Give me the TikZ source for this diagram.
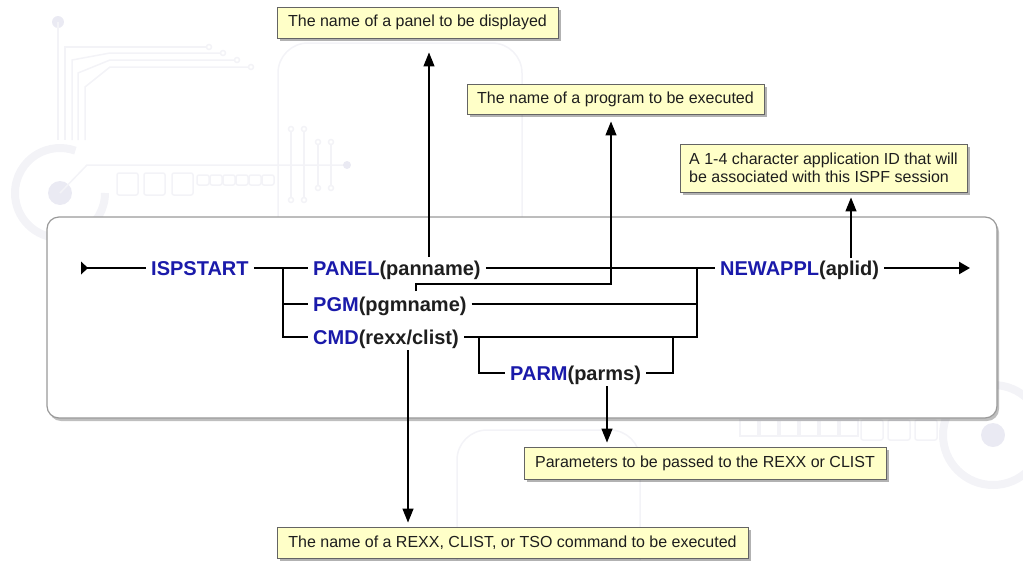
\documentclass[tikz,border=0pt]{standalone}
\usepackage{fontspec}
\setmainfont{Liberation Sans}
\usetikzlibrary{arrows.meta,shadows,calc}
\definecolor{kw}{RGB}{26,26,170}
\definecolor{txt}{RGB}{30,30,30}
\definecolor{notefill}{RGB}{255,255,200}
\definecolor{noteline}{RGB}{100,100,100}
\definecolor{faint}{RGB}{243,243,247}
\definecolor{faintdot}{RGB}{234,234,243}
\newcommand{\kw}[1]{\textcolor{kw}{#1}}
\begin{document}
\begin{tikzpicture}[x=1pt,y=-1pt,
  syn/.style={anchor=west, inner xsep=5pt, inner ysep=0pt, text height=14pt,
    text depth=0pt, font=\fontsize{20}{24}\selectfont\bfseries, text=txt},
  track/.style={line width=2.4pt, line join=miter},
  note/.style={draw=noteline, line width=0.9pt, fill=notefill, inner sep=0pt,
    font=\fontsize{16}{18}\selectfont, text=txt,
    drop shadow={shadow xshift=3pt, shadow yshift=-3pt, fill=black, opacity=0.3}},
  callout/.style={line width=1.3pt, -{Triangle[length=14pt,width=11pt]}},
  deco/.style={draw=faint, line width=1.5pt},
  frame/.style={draw=black!40, line width=1.2pt, fill=white, rounded corners=12pt,
    drop shadow={shadow xshift=2pt, shadow yshift=-3pt, fill=black, opacity=0.25}}]
\useasboundingbox (0,0) rectangle (1023,560);

% faint circuit pattern in the background
\begin{scope}[deco]
  \fill[faintdot] (58,22) circle (6);
  \draw (58,22) -- (58,140);
  \foreach \y/\x/\e/\v in {47/110/206/65, 53/110/220/72, 60/110/234/78, 67/110/248/85}{
    \draw (\e,\y) -- (\x,\y) -- (\v,\y+45-\x+\v) -- (\v,140);
    \draw (\e+3,\y) circle (2.5);
  }
  \draw[line width=8pt] (60,193) ++(90:45) arc (90:290:45);
  \draw[line width=8pt] (60,193) ++(0:45) arc (0:60:45);
  \fill[faintdot] (60,193) circle (12);
  \draw (60,193) -- (87,165) -- (347,165);
  \fill[faintdot] (347,165) circle (4);
  \foreach \x in {117,144,172}{\draw[rounded corners=2pt] (\x,173) rectangle ++(21,22);}
  \foreach \x in {197,210,223,236,249,262}{\draw[rounded corners=2pt] (\x,175) rectangle ++(12,10);}
  \foreach \x/\a/\b in {291/132/197, 304/132/197, 318/145/185, 331/145/185}{
    \draw (\x,\a) -- (\x,\b); \draw (\x,\a-3) circle (2.5); \draw (\x,\b+3) circle (2.5);}
  \draw[rounded corners=30pt] (278,217) -- (278,43) -- (522,43) -- (522,217);
  \draw[rounded corners=30pt] (457,560) -- (457,430) -- (640,430) -- (640,560);
  \foreach \x in {740,760,780,800,820,840}{\draw (\x,420) rectangle ++(18,16);}
  \foreach \x in {861,888,915}{\draw[rounded corners=2pt] (\x,420) rectangle ++(22,20);}
  \draw[line width=8pt] (993,435) circle (50);
  \fill[faintdot] (993,435) circle (12);
\end{scope}

% syntax frame
\path[frame] (47,217) rectangle (997,418);

% syntax elements
\coordinate (start) at (81,268);
\node[syn] (isp) at (146,268) {\kw{ISPSTART}};
\node[syn] (panel) at (308,268) {\kw{PANEL}(panname)};
\node[syn] (pgm) at (308,304) {\kw{PGM}(pgmname)};
\node[syn] (cmd) at (308,337) {\kw{CMD}(rexx/clist)};
\node[syn] (parm) at (505,373) {\kw{PARM}(parms)};
\node[syn] (newappl) at (715,268) {\kw{NEWAPPL}(aplid)};
\coordinate (finish) at (970,268);
\coordinate (jl) at (283,268);
\coordinate (jr) at (697,268);
\coordinate (pl) at (479,337);
\coordinate (pr) at (673,337);

% syntax tracks
\fill (start) ++(0,-6.5) -- ++(7,6.5) -- ++(-7,6.5) -- cycle;
\draw[track] (start) -- (isp.west);
\draw[track] (isp.east) -- (panel.west);
\draw[track] (jl) |- (pgm.west);
\draw[track] (jl) |- (cmd.west);
\draw[track] (panel.east) -- (newappl.west);
\draw[track] (pgm.east) -| (jr);
\draw[track] (cmd.east) -| (jr);
\draw[track] (pl) |- (parm.west);
\draw[track] (parm.east) -| (pr);
\draw[track, -{Triangle[length=11pt,width=12pt]}] (newappl.east) -- (finish);

% explanatory notes
\node[note, minimum width=281pt, minimum height=31pt] (n1) at (417.5,22.5)
  {The name of a panel to be displayed};
\node[note, minimum width=297pt, minimum height=30pt] (n2) at (615.5,99)
  {The name of a program to be executed};
\node[note, minimum width=287pt, minimum height=48pt, align=left] (n3) at (823.5,168)
  {A 1-4 character application ID that will\\be associated with this ISPF session};
\node[note, minimum width=362pt, minimum height=32pt] (n5) at (705,463)
  {Parameters to be passed to the REXX or CLIST};
\node[note, minimum width=471pt, minimum height=31pt] (n4) at (512.5,542.5)
  {The name of a REXX, CLIST, or TSO command to be executed};

% note connectors
\coordinate (a1) at (429,257);
\coordinate (a2) at (416,291);
\coordinate (a2b) at (611,284);
\coordinate (a3) at (851,258);
\coordinate (a4) at (408,350);
\coordinate (a5) at (607,386);
\draw[callout, shorten >=14pt] (a1) -- (a1 |- n1.south);
\draw[callout, shorten >=7pt] (a2) |- (a2b) -- (a2b |- n2.south);
\draw[callout, shorten >=5pt] (a3) -- (a3 |- n3.south);
\draw[callout, shorten >=4pt] (a4) -- (a4 |- n4.north);
\draw[callout, shorten >=4pt] (a5) -- (a5 |- n5.north);
\end{tikzpicture}
\end{document}
